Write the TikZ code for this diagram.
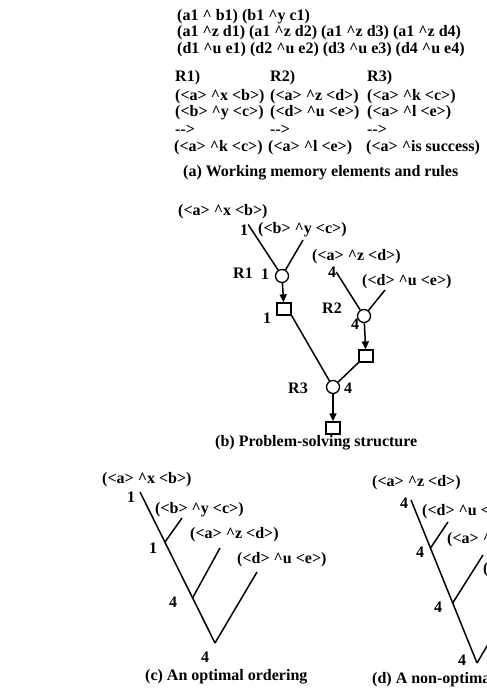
\documentclass[tikz,border=0pt]{standalone}
\usepackage{fontspec}
\setmainfont{Liberation Serif}
\usetikzlibrary{arrows.meta}
\newcommand{\crt}{\textasciicircum}
\begin{document}
\begin{tikzpicture}[x=1pt,y=-1pt,
  txt/.style={anchor=west, inner sep=0pt, font=\fontsize{16}{17}\selectfont\bfseries},
  num/.style={inner sep=0pt, font=\fontsize{16}{17}\selectfont\bfseries},
  rnode/.style={circle, draw, line width=1.3pt, minimum size=13pt, inner sep=0pt},
  snode/.style={rectangle, draw, line width=1.3pt, minimum width=14pt, minimum height=12pt, inner sep=0pt},
  link/.style={line width=1.5pt},
  arr/.style={line width=1.5pt, -{Triangle[length=8pt,width=7pt]}}]
\useasboundingbox (0,0) rectangle (487,696);
\clip (0,0) rectangle (487,696);
% ---------- (a)
\node[txt] (w1) at (177,17) {(a1 \crt\ b1) (b1 \crt y c1)};
\node[txt] (w2) at (177,33) {(a1 \crt z d1) (a1 \crt z d2) (a1 \crt z d3) (a1 \crt z d4)};
\node[txt] (w3) at (177,50) {(d1 \crt u e1) (d2 \crt u e2) (d3 \crt u e3) (d4 \crt u e4)};
\node[txt] (r1h) at (175,78) {R1)};
\node[txt] (r2h) at (270,78) {R2)};
\node[txt] (r3h) at (367,78) {R3)};
\node[txt] (r1a) at (175,97) {(<a> \crt x <b>)};
\node[txt] (r1b) at (175,113) {(<b> \crt y <c>)};
\node[txt] (r1c) at (175,130) {{-}{-}>};
\node[txt] (r1d) at (174,148) {(<a> \crt k <c>)};
\node[txt] (r2a) at (270,97) {(<a> \crt z <d>)};
\node[txt] (r2b) at (270,113) {(<d> \crt u <e>)};
\node[txt] (r2c) at (270,130) {{-}{-}>};
\node[txt] (r2d) at (268,148) {(<a> \crt l <e>)};
\node[txt] (r3a) at (367,97) {(<a> \crt k <c>)};
\node[txt] (r3b) at (367,113) {(<a> \crt l <e>)};
\node[txt] (r3c) at (367,130) {{-}{-}>};
\node[txt] (r3d) at (366,148) {(<a> \crt is success)};
\node[txt] (capa) at (183,173) {(a) Working memory elements and rules};
% ---------- (b)
\node[txt] (bw1) at (178,212) {(<a> \crt x <b>)};
\node[num] (bl1) at (244,230) {1};
\node[txt] (bw2) at (258,230) {(<b> \crt y <c>)};
\coordinate (bw2e) at (303,240);
\node[rnode] (c1) at (282,276) {};
\node[num] (bR1) at (243,273) {R1};
\node[num] (bl2) at (265,274) {1};
\node[snode] (s1) at (284,309) {};
\node[num] (bl3) at (267,318) {1};
\node[txt] (bw3) at (312,257) {(<a> \crt z <d>)};
\node[num] (bl4) at (332,272) {4};
\node[txt] (bw4) at (362,282) {(<d> \crt u <e>)};
\coordinate (bw4e) at (385,290);
\node[rnode] (c2) at (364,316) {};
\node[num] (bR2) at (332,308) {R2};
\node[num] (bl5) at (355,324) {4};
\node[snode] (s2) at (366,356) {};
\node[rnode] (c3) at (333,387) {};
\node[num] (bR3) at (298,388) {R3};
\node[num] (bl6) at (348,388) {4};
\node[snode] (s3) at (333,428) {};
\node[txt] (capb) at (215,443) {(b) Problem-solving structure};
\draw[link] (bl1.north east) -- (c1);
\draw[link] (bw2e) -- (c1);
\draw[arr] (c1) -- (s1);
\draw[link] (bl4.east) -- (c2);
\draw[link] (bw4e) -- (c2);
\draw[arr] (c2) -- (s2);
\draw[link] (s1.south east) -- (c3);
\draw[link] (s2.south west) -- (c3);
\draw[arr] (c3) -- (s3);
% ---------- (c)
\node[txt] (cw1) at (102,480) {(<a> \crt x <b>)};
\node[num] (cl1) at (131,497) {1};
\coordinate (ct) at (140,492);
\node[txt] (cw2) at (155,510) {(<b> \crt y <c>)};
\coordinate (cb2) at (182,518);
\coordinate (cj2) at (165,542);
\node[num] (cl2) at (153,548) {1};
\node[txt] (cw3) at (190,535) {(<a> \crt z <d>)};
\coordinate (cb3) at (220,548);
\coordinate (cj3) at (192.5,598);
\node[num] (cl3) at (173,602) {4};
\node[txt] (cw4) at (237,560) {(<d> \crt u <e>)};
\coordinate (cb4) at (257,572);
\coordinate (cj4) at (215,643);
\node[num] (cl4) at (205,657) {4};
\node[txt] (capc) at (145,677) {(c) An optimal ordering};
\draw[link] (ct) -- (cj4);
\draw[link] (cb2) -- (cj2);
\draw[link] (cb3) -- (cj3);
\draw[link] (cb4) -- (cj4);
% ---------- (d)
\node[txt] (dw1) at (372,483) {(<a> \crt z <d>)};
\node[num] (dl1) at (404,503) {4};
\coordinate (dt) at (411,500);
\node[txt] (dw2) at (422,512) {(<d> \crt u <e>)};
\coordinate (db2) at (448,522);
\coordinate (dj2) at (430.5,548);
\node[num] (dl2) at (420,552) {4};
\node[txt] (dw3) at (447,540) {(<a> \crt x <b>)};
\coordinate (db3) at (483,555);
\coordinate (dj3) at (452.7,603);
\node[num] (dl3) at (438,607) {4};
\node[txt] (dw4) at (483,570) {(<b> \crt y <c>)};
\coordinate (db4) at (520,590);
\coordinate (dj4) at (477,663);
\node[num] (dl4) at (462,660) {4};
\node[txt] (capd) at (372,680) {(d) A non-optimal ordering};
\draw[link] (dt) -- (dj4);
\draw[link] (db2) -- (dj2);
\draw[link] (db3) -- (dj3);
\draw[link] (db4) -- (dj4);
\end{tikzpicture}
\end{document}
